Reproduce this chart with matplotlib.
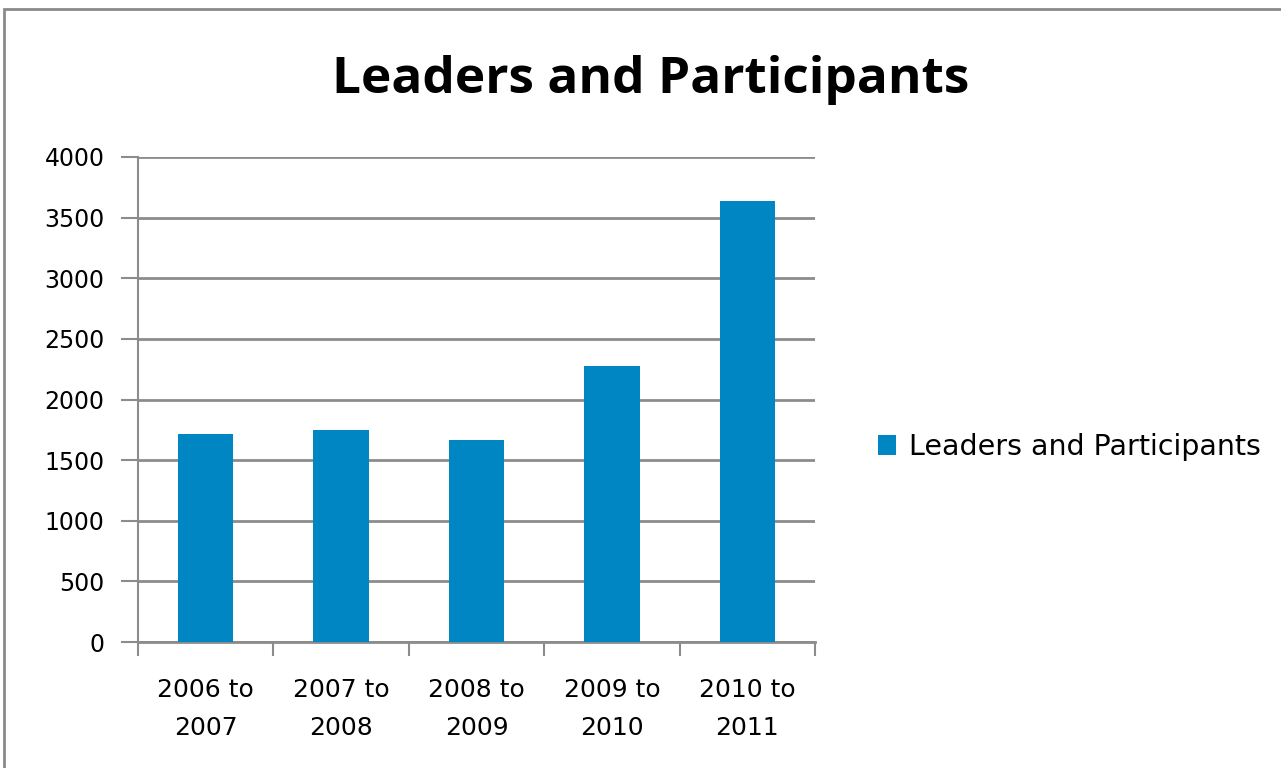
import matplotlib
matplotlib.use("Agg")
import matplotlib.pyplot as plt
from matplotlib.patches import Rectangle

categories = ["2006 to\n2007", "2007 to\n2008", "2008 to\n2009", "2009 to\n2010", "2010 to\n2011"]
values = [1712, 1751, 1668, 2280, 3638]
series_name = "Leaders and Participants"
yticks = [0, 500, 1000, 1500, 2000, 2500, 3000, 3500, 4000]

W, H = 1281, 768
fig = plt.figure(figsize=(W / 100, H / 100), dpi=100)
fig.patch.set_facecolor("white")

# outer frame
fig.patches.append(Rectangle((4 / W, -0.1), 1.2, (768 - 9) / H + 0.1, transform=fig.transFigure,
                             fill=False, edgecolor="#8a8a8a", linewidth=2))

ax = fig.add_axes([138 / W, 1 - 642 / H, (815 - 138) / W, (642 - 157) / H])
x = list(range(len(categories)))
bars = ax.bar(x, values, width=0.41, color="#0086C3", zorder=3, label=series_name)
ax.set_xlim(-0.5, len(categories) - 0.5)
ax.set_ylim(0, 4000)
ax.set_yticks(yticks)
ax.set_yticklabels([str(v) for v in yticks], fontsize=17, family="DejaVu Sans")
ax.yaxis.grid(True, color="#8c8c8c", linewidth=2, zorder=0)
ax.set_axisbelow(True)

ax.set_xticks(x)
ax.set_xticklabels(categories, fontsize=18, family="DejaVu Sans", linespacing=1.75)
ax.tick_params(axis="x", length=0, pad=26)
ax.set_xticks([i - 0.5 for i in range(len(categories) + 1)], minor=True)
ax.tick_params(axis="x", which="minor", length=10, width=1.5, color="#8c8c8c", direction="out")
ax.tick_params(axis="y", length=12, width=1.5, color="#8c8c8c", direction="out", pad=12)

for s in ["top", "right"]:
    ax.spines[s].set_visible(False)
ax.spines["left"].set_color("#8c8c8c")
ax.spines["left"].set_linewidth(1.5)
ax.spines["bottom"].set_color("#8c8c8c")
ax.spines["bottom"].set_linewidth(2)

fig.text(651 / W, 1 - 80 / H, "Leaders and Participants", ha="center", va="center",
         fontsize=37, fontweight="bold", family="Open Sans")

leg = fig.legend(handles=[bars], labels=[series_name], loc="center left",
                 bbox_to_anchor=(852 / W, 1 - 447 / H), frameon=False,
                 handlelength=0.65, handleheight=0.65, handletextpad=0.45,
                 prop={"family": "DejaVu Sans", "size": 20.5})

fig.savefig("out.png", dpi=100)
